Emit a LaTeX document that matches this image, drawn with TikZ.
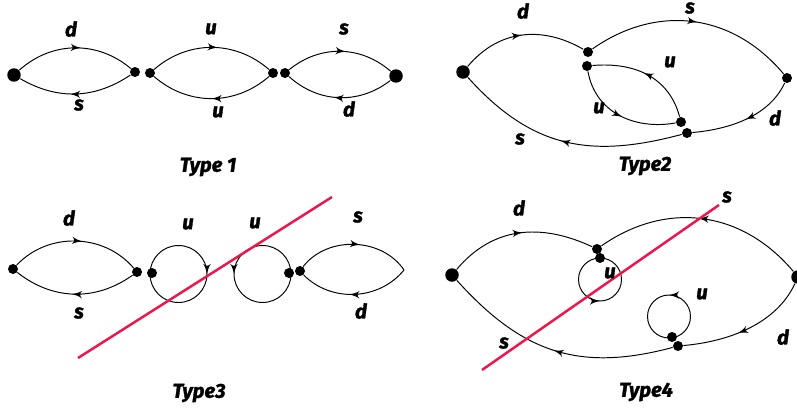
\documentclass[tikz,border=0pt]{standalone}
\usepackage{fontspec}
\setmainfont{Fira Sans}[BoldItalicFeatures={FakeBold=1.6}]
\definecolor{cutred}{RGB}{240,20,75}
\usetikzlibrary{shapes, arrows, positioning, decorations.markings}

\begin{document}
\begin{tikzpicture}[auto, x=0.02cm, y=-0.02cm, >=latex', line width=0.55pt]
    % Styles
    \tikzstyle{dot} = [circle, fill=black, inner sep=0pt, minimum size=0.2cm]
    \tikzstyle{bigdot} = [dot, minimum size=0.27cm]
    \tikzstyle{lab} = [font=\bfseries\itshape\fontsize{11.5}{13}\selectfont, inner sep=0pt]
    \tikzstyle{cut} = [draw=cutred, line width=1.4pt]
    \tikzstyle{mid} = [postaction={decorate}, decoration={markings, mark=at position #1 with {\arrow[scale=1.3]{latex'}}}]
    \useasboundingbox (0,0) rectangle (797,412);

    % Type 1
    \node [bigdot] (a1) at (14,75) {};
    \node [dot] (a2) at (135,72) {};
    \node [dot] (a3) at (150,73) {};
    \node [dot] (a4) at (273,73) {};
    \node [dot] (a5) at (285,73) {};
    \node [bigdot] (a6) at (396,76) {};
    \draw [mid=.55] (a1) to[bend left=41] (a2);
    \draw [mid=.55] (a2) to[bend left=32] (a1);
    \draw [mid=.55] (a3) to[bend left=41] (a4);
    \draw [mid=.5] (a4) to[bend left=41] (a3);
    \draw [mid=.55] (a5) to[bend left=40] (a6);
    \draw [mid=.55] (a6) to[bend left=40] (a5);
    \node [lab] at (71,29) {d};
    \node [lab] at (79,105) {s};
    \node [lab] at (211,29) {u};
    \node [lab] at (218,112) {u};
    \node [lab] at (344,29) {s};
    \node [lab] at (349,109) {d};
    \node [lab] at (208,167) {Type 1};

    % Type 2
    \node [bigdot] (b1) at (463,72) {};
    \node [dot] (b2) at (588,52) {};
    \node [dot] (b3) at (787,78) {};
    \node [dot] (b4) at (687,133) {};
    \node [dot] (b5) at (587,66) {};
    \node [dot] (b6) at (681,122) {};
    \draw [mid=.5] (b1) to[out=50, in=150, looseness=1.05] (b2);
    \draw [mid=.52] (b2) to[out=35, in=130, looseness=1.05] (b3);
    \draw [mid=.5] (b3) to[out=-115, in=5, looseness=0.9] (b4);
    \draw [mid=.52] (b4) to[out=195, in=-48, looseness=1.1] (b1);
    \draw [mid=.53] (b6) to[out=105, in=5, looseness=1.05] (b5);
    \draw [mid=.52] (b5) to[out=-80, in=190, looseness=1.05] (b6);
    \node [lab] at (523,11) {d};
    \node [lab] at (690,8) {s};
    \node [lab] at (670,62) {u};
    \node [lab] at (599,108) {u};
    \node [lab] at (775,118) {d};
    \node [lab] at (520,139) {s};
    \node [lab] at (645,166) {Type2};

    % Type 3
    \node [dot] (c1) at (13,269) {};
    \node [dot] (c2) at (137,272) {};
    \node [dot] (c3) at (152,273) {};
    \node [dot] (c4) at (289,273) {};
    \node [dot] (c5) at (300,271) {};
    \coordinate (c6) at (404,270);
    \coordinate (cutA) at (78,358);
    \coordinate (cutB) at (332,197);
    \draw [mid=.55] (c1) to[bend left=48] (c2);
    \draw [mid=.52] (c2) to[bend left=37] (c1);
    \draw [mid=.55] (c5) to[bend left=54] (c6);
    \draw [mid=.55] (c6) to[bend left=48] (c5);
    \draw [mid=.5] (c3.center) ++(-2,1) arc[start angle=180, end angle=-180, radius=0.57cm];
    \draw [mid=.5] (c4.center) ++(2,1) arc[start angle=0, end angle=360, radius=0.57cm];
    \draw [cut] (cutA) -- (cutB);
    \node [lab] at (69,218) {d};
    \node [lab] at (79,313) {s};
    \node [lab] at (188,224) {u};
    \node [lab] at (255,223) {u};
    \node [lab] at (358,217) {s};
    \node [lab] at (361,311) {d};
    \node [lab] at (199,393) {Type3};

    % Type 4
    \node [bigdot] (d1) at (452,275) {};
    \node [dot] (d2) at (597,249) {};
    \node [bigdot] (d3) at (798,277) {};
    \node [dot] (d4) at (678,346) {};
    \node [dot] (d5) at (600,258) {};
    \node [dot] (d6) at (672,337) {};
    \coordinate (cutC) at (482,370);
    \coordinate (cutD) at (719,205);
    \draw [mid=.52] (d1) to[out=50, in=155, looseness=1.05] (d2);
    \draw [mid=.52] (d3) to[out=130, in=35, looseness=1.05] (d2);
    \draw [mid=.58] (d3) to[out=-115, in=5, looseness=0.9] (d4);
    \draw [mid=.5] (d4) to[out=195, in=-48, looseness=1.1] (d1);
    \draw [mid=.5] (d5.center) arc[start angle=90, end angle=450, radius=0.43cm];
    \draw [mid=.5] (d6.center) ++(-3,1) arc[start angle=-90, end angle=270, radius=0.43cm];
    \draw [cut] (cutC) -- (cutD);
    \node [lab] at (519,208) {d};
    \node [lab] at (727,197) {s};
    \node [lab] at (610,273) {u};
    \node [lab] at (702,294) {u};
    \node [lab] at (504,343) {s};
    \node [lab] at (783,337) {d};
    \node [lab] at (646,392) {Type4};
\end{tikzpicture}
\end{document}
